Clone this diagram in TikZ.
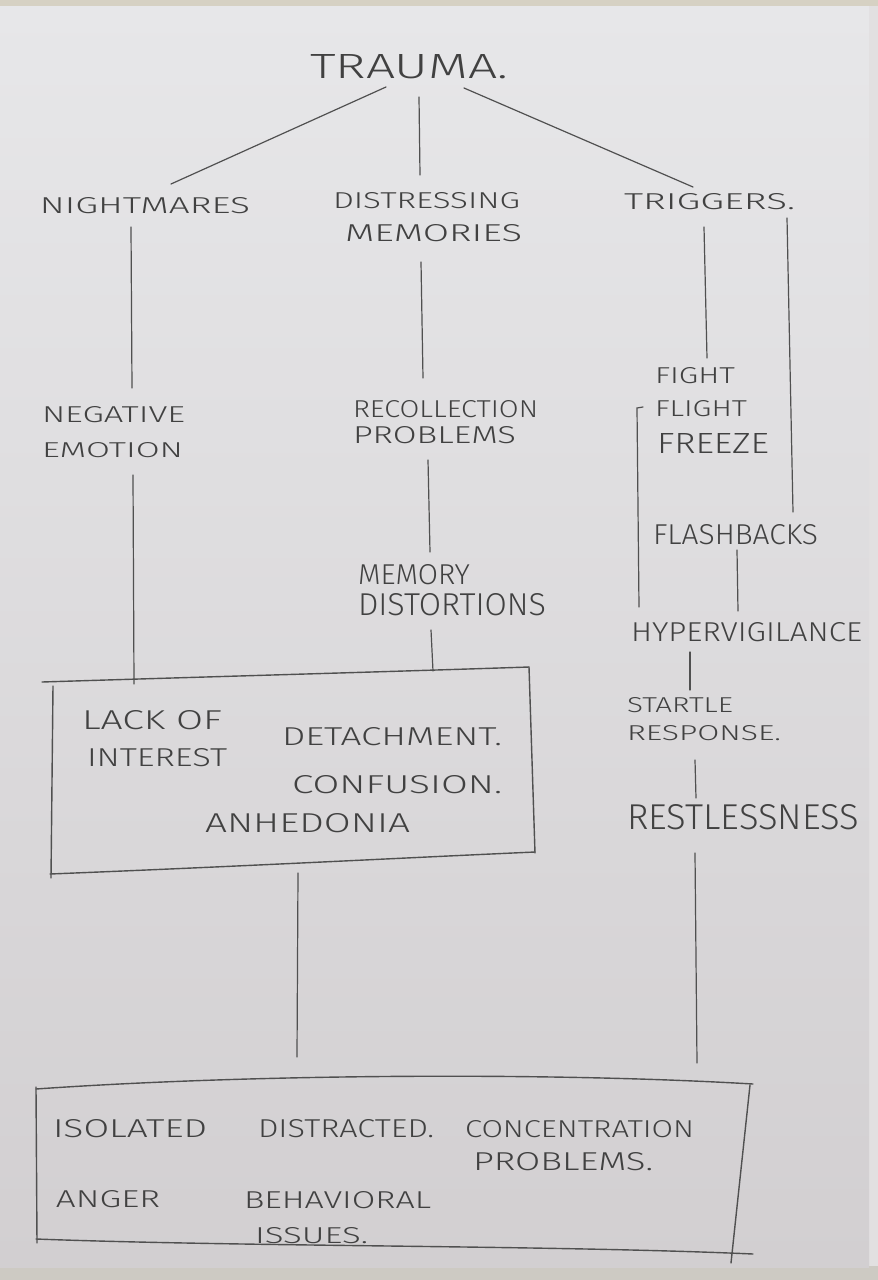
\documentclass[tikz,border=0pt]{standalone}
\usepackage{graphicx}
\usepackage{fontspec}
\newfontfamily\handfont{Fira Sans Light}
\newcommand{\hw}[3]{\resizebox{#1pt}{#2pt}{#3}}
\definecolor{pencil}{HTML}{414141}
\definecolor{lead}{HTML}{505050}
\definecolor{deskbg}{HTML}{D6D1C3}
\definecolor{deskright}{HTML}{E2E0E1}
\definecolor{deskbottom}{HTML}{CDCAC3}
\definecolor{papertop}{HTML}{E7E7E9}
\definecolor{papermid}{HTML}{E1E4E3}
\definecolor{paperbot}{HTML}{D2CFD1}
\tikzset{
  hand/.style={inner sep=0pt, outer sep=0pt, anchor=north west, align=left,
    text=pencil, font=\handfont\fontsize{10}{24}\selectfont},
  link/.style={draw=lead, line width=1.2pt, line cap=round},
  sketchbox/.style={draw=lead, line width=1.4pt, line cap=round},
  area/.style={draw=none, inner sep=0pt, outer sep=0pt, anchor=north west}
}
\begin{document}
\begin{tikzpicture}[x=1pt,y=-1pt]
\useasboundingbox (0,0) rectangle (878,1280);
% desk and paper
\fill[deskbg] (0,0) rectangle (878,1280);
\fill[deskright] (860,6) rectangle (878,1268);
\fill[deskbottom] (0,1266) rectangle (878,1280);
\shade[top color=papertop, middle color=papermid, bottom color=paperbot] (0,6) rectangle (869,1267);

% labels
\node[hand] (trauma) at (310,54) {\hw{198}{24}{TRAUMA.}};
\node[hand] (night) at (40,197) {\hw{210}{16}{NIGHTMARES}};
\node[hand] (dist) at (333,192) {\hw{187}{16}{DISTRESSING}\\[9pt]\hspace*{12pt}\hw{177}{17}{MEMORIES}};
\node[hand] (trig) at (624,193) {\hw{171}{16}{TRIGGERS.}};
\node[hand] (neg) at (42,406) {\hw{143}{16}{NEGATIVE}\\[11pt]\hw{141}{15}{EMOTION}};
\node[hand] (recol) at (353,400) {\hw{185}{17}{RECOLLECTION}\\[2pt]\hw{163}{17}{PROBLEMS}};
\node[hand] (fight) at (655,367) {\hw{80}{16}{FIGHT}\\[9pt]\hw{92}{16}{FLIGHT}\\[13pt]\hspace*{2pt}\hw{112}{20}{FREEZE}};
\node[hand] (flash) at (653,524) {\hw{165}{20}{FLASHBACKS}};
\node[hand] (hyper) at (631,622) {\hw{231}{19}{HYPERVIGILANCE}};
\node[hand] (startle) at (627,697) {\hw{106}{15}{STARTLE}\\[4pt]\hw{154}{15}{RESPONSE.}};
\node[hand] (restless) at (627,804) {\hw{232}{25}{RESTLESSNESS}};
\node[hand] (memory) at (358,564) {\hw{112}{20}{MEMORY}\\[7pt]\hw{188}{22}{DISTORTIONS}};
\node[hand] (lack) at (82,710) {\hw{140}{19}{LACK OF}\\[13pt]\hspace*{5pt}\hw{140}{18}{INTEREST}};
\node[hand] (detach) at (282,727) {\hw{220}{18}{DETACHMENT.}};
\node[hand] (confusion) at (292,775) {\hw{210}{18}{CONFUSION.}};
\node[hand] (anhedonia) at (205,813) {\hw{205}{19}{ANHEDONIA}};
\node[hand] (isolated) at (53,1119) {\hw{154}{18}{ISOLATED}};
\node[hand] (distracted) at (258,1119) {\hw{176}{18}{DISTRACTED.}};
\node[hand] (concentration) at (465,1120) {\hw{229}{17}{CONCENTRATION}\\[9pt]\hspace*{8pt}\hw{180}{18}{PROBLEMS.}};
\node[hand] (anger) at (56,1190) {\hw{104}{17}{ANGER}};
\node[hand] (behav) at (244,1191) {\hw{187}{17}{BEHAVIORAL}\\[11pt]\hspace*{11pt}\hw{113}{16}{ISSUES.}};

% box areas (for connectors)
\node[area, minimum width=493pt, minimum height=210pt] (box1) at (42,667) {};
\node[area, minimum width=717pt, minimum height=175pt] (box2) at (36,1085) {};

% hand-drawn boxes
\draw[sketchbox] (42,682) .. controls (200,677) and (380,672) .. (529,667);
\draw[sketchbox] (53,686) -- (51,878);
\draw[sketchbox] (529,667) -- (535,853);
\draw[sketchbox] (50,874) .. controls (250,866) and (400,858) .. (535,852);

\draw[sketchbox] (36,1089) .. controls (250,1074) and (550,1072) .. (753,1084);
\draw[sketchbox] (36,1087) -- (37,1243);
\draw[sketchbox] (750,1085) -- (731,1263);
\draw[sketchbox] (36,1239) .. controls (250,1247) and (550,1245) .. (753,1254);

% connectors
\draw[link] ([shift={(76,33)}]trauma.north west) -- ([shift={(131,-13)}]night.north west);
\draw[link] ([shift={(109,43)}]trauma.north west) -- ([shift={(87,-17)}]dist.north west);
\draw[link] ([shift={(154,34)}]trauma.north west) -- ([shift={(69,-6)}]trig.north west);
\draw[link] ([shift={(91,30)}]night.north west) -- ([shift={(90,-18)}]neg.north west);
\draw[link] ([shift={(88,70)}]dist.north west) -- ([shift={(70,-22)}]recol.north west);
\draw[link] ([shift={(80,34)}]trig.north west) -- ([shift={(52,-9)}]fight.north west);
\draw[link] ([shift={(163,25)}]trig.north west) -- ([shift={(140,-12)}]flash.north west);
\draw[link] ([shift={(-12,40)}]fight.north west) -- ([shift={(-18,41)}]fight.north west) -- ([shift={(8,-15)}]hyper.north west);
\draw[link] ([shift={(84,26)}]flash.north west) -- ([shift={(107,-11)}]hyper.north west);
\draw[link] ([shift={(59,30)}]hyper.north west) -- ([shift={(63,-7)}]startle.north west);
\draw[link] ([shift={(68,63)}]startle.north west) -- ([shift={(69,-6)}]restless.north west);
\draw[link] ([shift={(68,49)}]restless.north west) -- ([shift={(661,-22)}]box2.north west);
\draw[link] ([shift={(91,69)}]neg.north west) -- ([shift={(92,17)}]box1.north west);
\draw[link] ([shift={(75,60)}]recol.north west) -- ([shift={(72,-12)}]memory.north west);
\draw[link] ([shift={(73,66)}]memory.north west) -- ([shift={(391,4)}]box1.north west);
\draw[link] ([shift={(256,206)}]box1.north west) -- ([shift={(261,-28)}]box2.north west);
\end{tikzpicture}
\end{document}
